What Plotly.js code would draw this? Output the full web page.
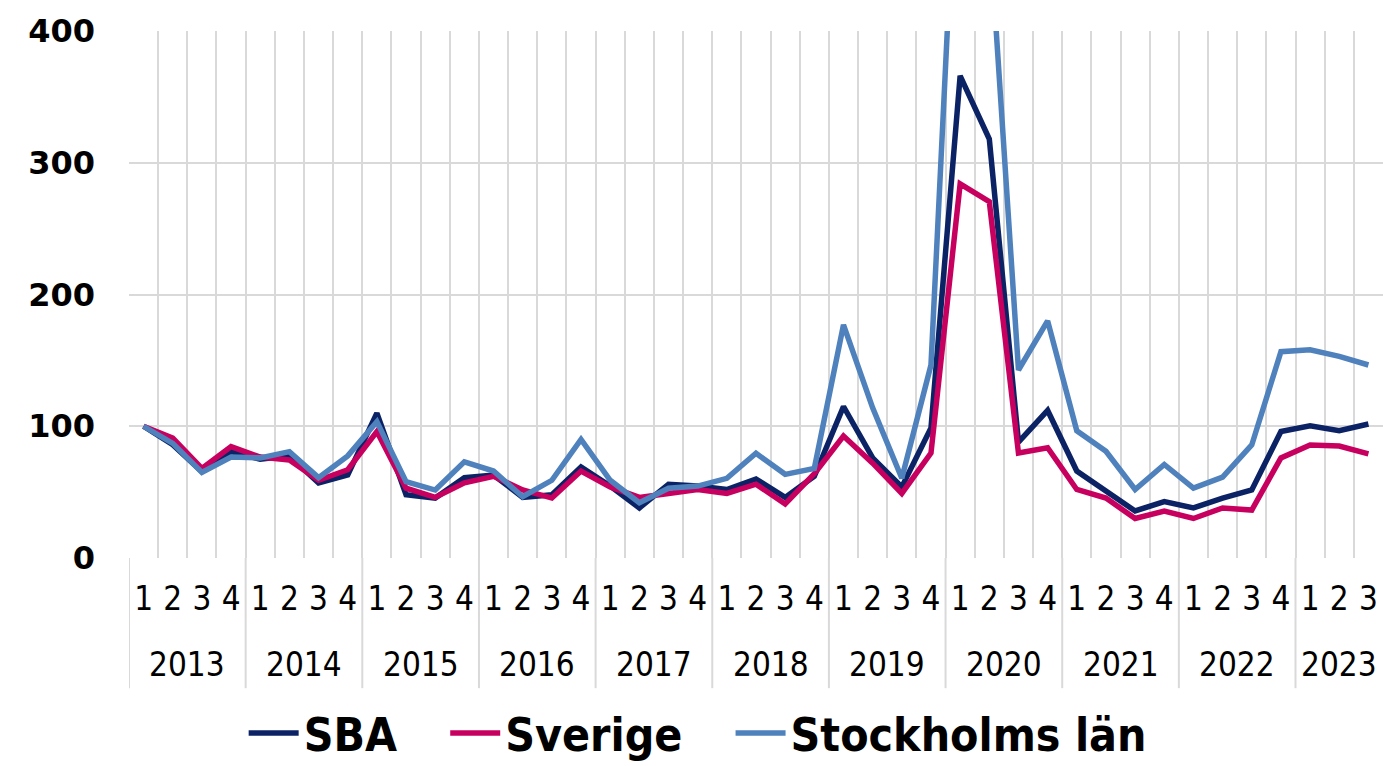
<!DOCTYPE html>
<html>
<head>
<meta charset="utf-8">
<script src="https://cdn.plot.ly/plotly-3.0.1.min.js"></script>
<style>html,body{margin:0;padding:0;background:#fff;}#chart{width:1383px;height:766px;}</style>
</head>
<body>
<div id="chart"></div>
<script>
// Years and quarter labels
const years = ["2013","2014","2015","2016","2017","2018","2019","2020","2021","2022","2023"];
const quarterNames = ["1","2","3","4"];
const quartersInYear = [4,4,4,4,4,4,4,4,4,4,3];
const seriesNames = ["SBA", "Sverige", "Stockholms län"];

// Series values (index, 2013 Q1 = 100)
const sba = [100, 86, 65.5, 80.7,
             75, 77.5, 57, 63,
             110, 48, 45.5, 61,
             63, 46, 48, 69,
             54.6, 38, 56, 54.6,
             52, 60, 46, 62,
             115, 76, 54, 98.6,
             366, 318, 88, 112,
             66, 51, 35.7, 42.8,
             38, 45.5, 51.6, 96,
             100.4, 96.6, 101.7];
const sverige = [100, 91, 68, 84.5,
                 76.6, 74.4, 59, 67,
                 96, 53, 46, 57,
                 62, 51.6, 45.5, 66,
                 54, 46, 49, 52,
                 49, 56, 41, 64,
                 92.6, 72, 49, 79.7,
                 284, 270.5, 79.7, 83.7,
                 52, 45.5, 30, 35.7,
                 30, 38, 36.4, 76,
                 85.8, 85, 79];
const stockholm = [100, 87, 65, 76.6,
                   76, 80.7, 61, 77.5,
                   103.5, 58, 51.6, 73,
                   66, 46.5, 59, 90,
                   59, 42, 53, 54.6,
                   60.5, 79.5, 63.5, 68,
                   177, 114, 60.5, 146.5,
                   600, 480, 142.7, 180,
                   96.6, 81, 52, 71,
                   53, 61.4, 85.8, 156.6,
                   158, 153, 146.5];
const yTicks = [0, 100, 200, 300, 400];

// Build category index positions
const xIdx = [], qText = [], yearStart = [], yearCenter = [];
let k = 0;
years.forEach((y, i) => {
  yearStart.push(k - 0.5);
  yearCenter.push(k + (quartersInYear[i] - 1) / 2);
  for (let q = 0; q < quartersInYear[i]; q++) { xIdx.push(k); qText.push(quarterNames[q]); k++; }
});
const boundaries = [];
for (let i = 0; i <= xIdx.length; i++) boundaries.push(i - 0.5);

const gridCol = "#d9d9d9";
const labelFont = "Liberation Sans Narrow, DejaVu Sans Condensed, sans-serif";
const pad = "\u00a0\u00a0\u00a0";

const mk = (name, vals, color) => ({
  type: "scatter", mode: "lines", name: name + pad, x: xIdx, y: vals,
  line: {color: color, width: 5.5}, hoverinfo: "skip"
});
const traces = [
  mk(seriesNames[0], sba, "#0b2265"),
  mk(seriesNames[1], sverige, "#c7005f"),
  mk(seriesNames[2], stockholm, "#4f81bd")
];

const bottomY = -0.247;
const shapes = yearStart.map(x => ({
  type: "line", xref: "x", yref: "paper", x0: x, x1: x, y0: 0, y1: bottomY,
  line: {color: gridCol, width: 2}, layer: "below"
}));
const annotations = years.map((y, i) => ({
  xref: "x", yref: "paper", x: yearCenter[i], y: -0.203, yanchor: "middle", xanchor: "center",
  text: y, showarrow: false, font: {family: labelFont, size: 33, color: "#000"}
}));

const layout = {
  width: 1383, height: 766,
  margin: {l: 129, r: 0, t: 31, b: 208},
  paper_bgcolor: "#fff", plot_bgcolor: "#fff",
  showlegend: true,
  legend: {orientation: "h", xref: "container", yref: "container",
           x: 0.52, xanchor: "center", y: 0.043, yanchor: "middle",
           itemwidth: 50,
           font: {family: "DejaVu Sans Condensed, DejaVu Sans, sans-serif", size: 46, weight: "bold", color: "#000"},
           traceorder: "normal"},
  xaxis: {
    range: [-0.5, 42.5], tickmode: "array", tickvals: xIdx, ticktext: qText,
    showgrid: false, zeroline: false, showline: false, ticks: "",
    tickfont: {family: labelFont, size: 33, color: "#000"},
    ticklabelstandoff: 18,
    minor: {tickmode: "array", tickvals: boundaries, showgrid: true, gridcolor: gridCol, gridwidth: 2, ticks: ""},
    fixedrange: true
  },
  yaxis: {
    range: [0, 400], tickmode: "array", tickvals: yTicks,
    showgrid: true, gridcolor: gridCol, gridwidth: 2, zeroline: false, showline: false, ticks: "",
    tickfont: {family: "DejaVu Sans, sans-serif", size: 32, weight: "bold", color: "#000"},
    ticklabelstandoff: 33, fixedrange: true
  },
  shapes: shapes,
  annotations: annotations
};

Plotly.newPlot("chart", traces, layout, {displayModeBar: false, staticPlot: true});
</script>
</body>
</html>
